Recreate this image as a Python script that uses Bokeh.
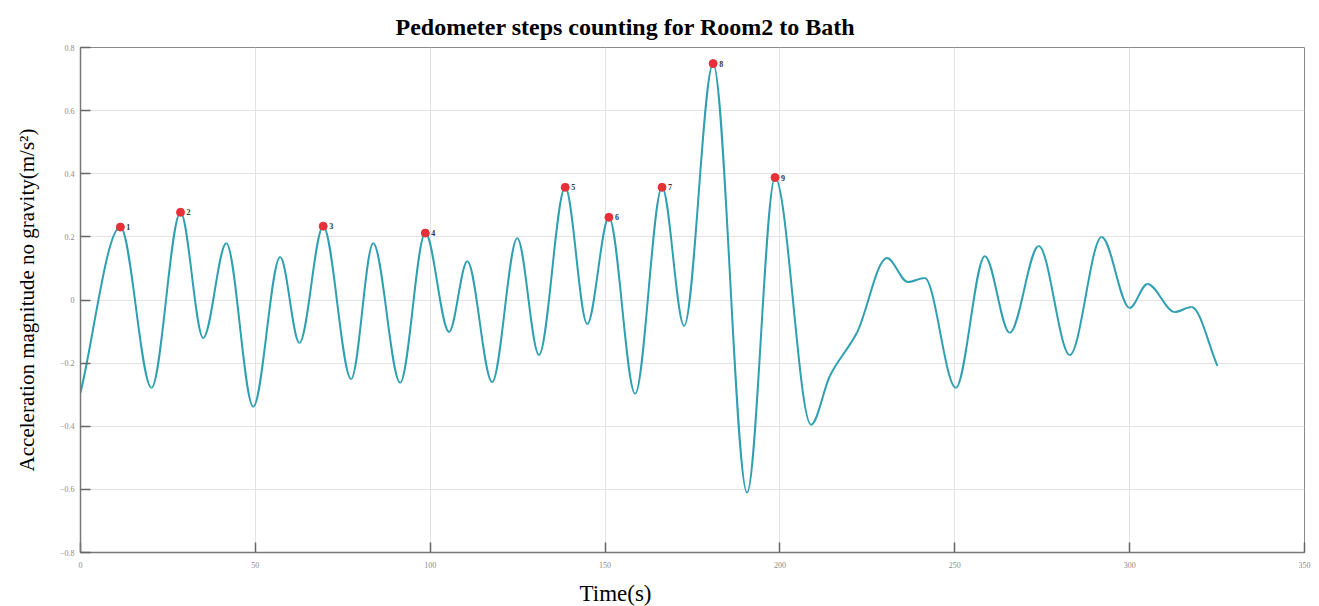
from bokeh.plotting import figure
from bokeh.models import ColumnDataSource, FixedTicker, Title
from bokeh.embed import file_html
from bokeh.resources import INLINE
from bokeh.core.properties import value

# Acceleration magnitude (gravity removed): turning points of the trace
time_s = [0, 11.4, 20.3, 28.6, 35.1, 41.7, 49.4, 57.1, 62.6, 69.4, 77.4, 83.7,
          91.4, 98.6, 105.4, 110.6, 117.7, 124.9, 131.1, 138.6, 144.9, 151.1,
          158.6, 166.3, 172.6, 180.9, 190.6, 198.6, 208.9, 214.3, 222.0, 230.6,
          236.6, 241.4, 250.3, 258.6, 265.7, 274.0, 282.9, 292.0, 300.0, 305.1,
          312.9, 317.7, 325.1]
accel = [-0.294, 0.231, -0.278, 0.278, -0.120, 0.180, -0.338, 0.136, -0.136,
         0.234, -0.250, 0.180, -0.262, 0.212, -0.101, 0.123, -0.260, 0.196,
         -0.174, 0.357, -0.076, 0.262, -0.297, 0.357, -0.082, 0.749, -0.610,
         0.388, -0.395, -0.240, -0.104, 0.133, 0.057, 0.070, -0.278, 0.139,
         -0.104, 0.171, -0.174, 0.200, -0.025, 0.051, -0.038, -0.022, -0.209]

# Detected steps: index into the trace of each counted peak
step_index = [1, 3, 9, 13, 19, 21, 23, 25, 27]
step_label = ["1", "2", "3", "4", "5", "6", "7", "8", "9"]

x_ticks = [0, 50, 100, 150, 200, 250, 300, 350]
y_ticks = [-0.8, -0.6, -0.4, -0.2, 0, 0.2, 0.4, 0.6, 0.8]

LINE = "#2f9fb2"
SERIF = "Liberation Serif"


def monotone_slopes(x, y):
    """Fritsch-Carlson slopes: flat at every turning point."""
    n = len(x)
    h = [x[i + 1] - x[i] for i in range(n - 1)]
    d = [(y[i + 1] - y[i]) / h[i] for i in range(n - 1)]
    m = [0.0] * n
    m[0], m[-1] = d[0], d[-1]
    for k in range(1, n - 1):
        if d[k - 1] * d[k] <= 0:
            m[k] = 0.0
        else:
            w1 = 2 * h[k] + h[k - 1]
            w2 = h[k] + 2 * h[k - 1]
            m[k] = (w1 + w2) / (w1 / d[k - 1] + w2 / d[k])
    return m


slopes = monotone_slopes(time_s, accel)
seg = dict(x0=[], y0=[], x1=[], y1=[], cx0=[], cy0=[], cx1=[], cy1=[])
for i in range(len(time_s) - 1):
    h = time_s[i + 1] - time_s[i]
    seg["x0"].append(time_s[i])
    seg["y0"].append(accel[i])
    seg["x1"].append(time_s[i + 1])
    seg["y1"].append(accel[i + 1])
    seg["cx0"].append(time_s[i] + h / 3)
    seg["cy0"].append(accel[i] + slopes[i] * h / 3)
    seg["cx1"].append(time_s[i + 1] - h / 3)
    seg["cy1"].append(accel[i + 1] - slopes[i + 1] * h / 3)

p = figure(width=1319, height=606, x_range=(0, 350), y_range=(-0.8, 0.8),
           output_backend="svg", toolbar_location=None,
           min_border_left=80, min_border_right=15,
           min_border_top=47, min_border_bottom=53)
p.background_fill_color = "white"
p.border_fill_color = "white"
p.outline_line_color = "#8a8a8a"
p.outline_line_width = 1

p.grid.grid_line_color = "#e3e3e3"
p.grid.grid_line_width = 1
p.xaxis.ticker = FixedTicker(ticks=x_ticks)
p.yaxis.ticker = FixedTicker(ticks=y_ticks)
p.yaxis.major_label_overrides = {0: "0"}

for ax in (p.xaxis, p.yaxis):
    ax.axis_line_color = "#777777"
    ax.axis_line_width = 1.5
    ax.major_tick_line_color = "#666666"
    ax.major_tick_line_width = 1.5
    ax.major_tick_in = 10
    ax.major_tick_out = 0
    ax.minor_tick_line_color = None
    ax.major_label_text_font = SERIF
    ax.major_label_text_font_size = "8px"
    ax.major_label_text_color = "#8a8a8a"
    ax.major_label_standoff = 6
p.xaxis.major_label_standoff = 9
# blank spacer label to push the time caption a little lower
p.xaxis.axis_label = " "
p.xaxis.axis_label_text_font_size = "2px"
p.xaxis.axis_label_standoff = 2

p.yaxis.axis_label = "Acceleration magnitude no gravity(m/s\u00b2)"
p.yaxis.axis_label_text_font = SERIF
p.yaxis.axis_label_text_font_style = "normal"
p.yaxis.axis_label_text_font_size = "21px"
p.yaxis.axis_label_text_color = "black"
p.yaxis.axis_label_standoff = 18

p.bezier(x0="x0", y0="y0", x1="x1", y1="y1", cx0="cx0", cy0="cy0",
         cx1="cx1", cy1="cy1", source=ColumnDataSource(seg),
         line_color=LINE, line_width=2)

steps = ColumnDataSource(dict(
    t=[time_s[i] for i in step_index],
    a=[accel[i] for i in step_index],
    lab=step_label,
))
p.scatter("t", "a", source=steps, size=8, marker="circle",
          fill_color="#e8303a", line_color="#e8303a")
p.text("t", "a", text="lab", source=steps, x_offset=6,
       text_font=value(SERIF), text_font_size="8px", text_font_style="bold",
       text_color="#333333", text_baseline="middle", text_align="left")

p.add_layout(Title(text="Pedometer steps counting for Room2 to Bath",
                   text_font=SERIF, text_font_size="24px",
                   text_font_style="bold", text_color="black",
                   align="left", offset=315, standoff=12,
                   vertical_align="top"), "above")
p.add_layout(Title(text="Time(s)", text_font=SERIF, text_font_size="23px",
                   text_font_style="normal", text_color="black",
                   align="left", offset=499, standoff=2), "below")

open("out.html", "w").write(file_html(p, INLINE))
